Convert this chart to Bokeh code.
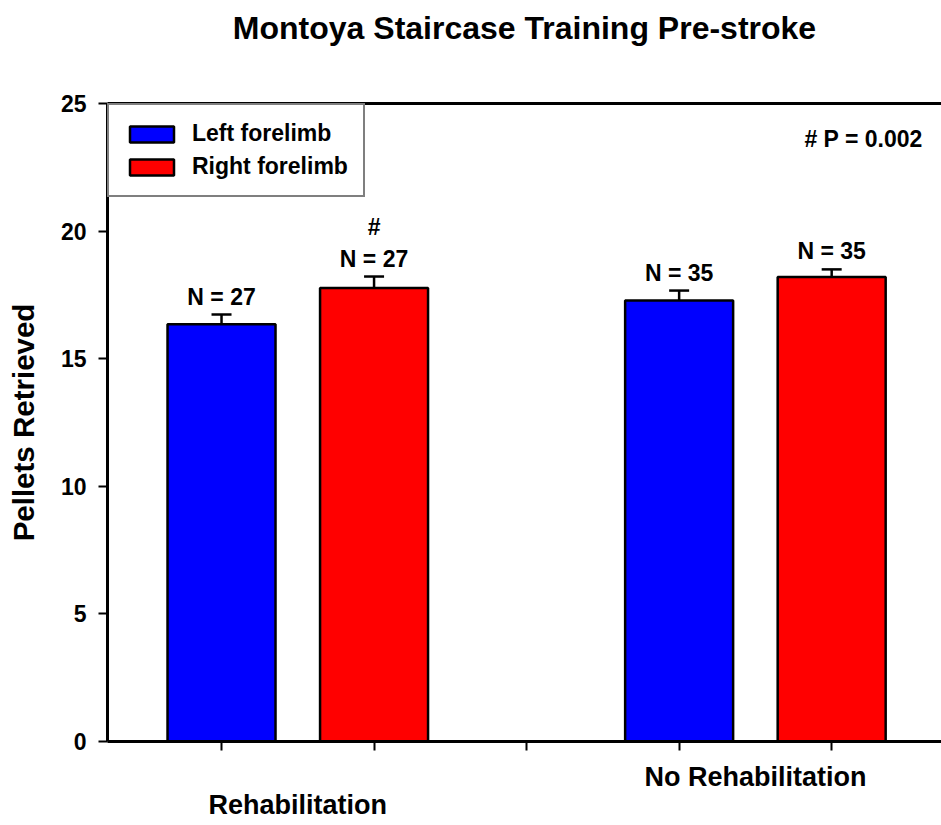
from bokeh.plotting import figure
from bokeh.models import (Range1d, FixedTicker, LinearAxis, Label, Legend, LegendItem,
                          Whisker, TeeHead, ColumnDataSource)
from bokeh.core.properties import value
from bokeh.embed import file_html
from bokeh.resources import INLINE

# ---------------- data ----------------
title_text = "Montoya Staircase Training Pre-stroke"
groups = ["Rehabilitation", "No Rehabilitation"]
series = ["Left forelimb", "Right forelimb"]
left_means = [16.35, 17.28]
left_err = [0.38, 0.39]
right_means = [17.77, 18.20]
right_err = [0.45, 0.30]
left_n = ["N = 27", "N = 35"]
right_n = ["N = 27", "N = 35"]
right_sig = ["#", ""]
p_note = "# P = 0.002"
y_label = "Pellets Retrieved"
y_ticks = [0, 5, 10, 15, 20, 25]

FONT = "Liberation Sans"
colors = ["#0000FF", "#FF0000"]

# slot positions: each group gets two bars and a gap slot
left_x = [3 * i + 1 for i in range(len(groups))]
right_x = [3 * i + 2 for i in range(len(groups))]
group_x = [(a + b) / 2 for a, b in zip(left_x, right_x)]

Y0, Y1 = 0, 25
X0, X1 = 0.2525, 5.72
FRAME_TOP, FRAME_BOTTOM = 103, 741  # page px
PPU = (FRAME_BOTTOM - FRAME_TOP) / (Y1 - Y0)


def y_at(page_px):
    return Y1 - (page_px - FRAME_TOP) / PPU


def x_at(page_px):
    return 1 + (page_px - 221) / 152.5


p = figure(width=941, height=825, x_range=Range1d(X0, X1), y_range=Range1d(Y0, Y1),
           output_backend="svg", toolbar_location=None,
           min_border_left=107, min_border_right=0, min_border_top=103, min_border_bottom=84)
p.outline_line_color = None
p.xgrid.visible = False
p.ygrid.visible = False
p.background_fill_color = "white"
p.border_fill_color = "white"

# axes
xa = p.xaxis[0]
xa.ticker = FixedTicker(ticks=[1, 2, 3, 4, 5])
xa.major_label_text_font_size = "0px"
xa.major_label_text_color = None
xa.major_label_standoff = 0
xa.minor_tick_line_color = None
xa.major_tick_out = 9
xa.major_tick_in = 0
xa.major_tick_line_width = 2
xa.axis_line_width = 3

ya = p.yaxis[0]
ya.ticker = FixedTicker(ticks=y_ticks)
ya.minor_tick_line_color = None
ya.major_tick_out = 9
ya.major_tick_in = 0
ya.major_tick_line_width = 2
ya.axis_line_width = 3
ya.major_label_text_font = FONT
ya.major_label_text_font_size = "23px"
ya.major_label_text_font_style = "bold"
ya.major_label_text_color = "black"
ya.major_label_standoff = 12
ya.axis_label = y_label
ya.axis_label_text_font = FONT
ya.axis_label_text_font_size = "29.5px"
ya.axis_label_text_font_style = "bold"
ya.axis_label_text_color = "black"
ya.axis_label_standoff = 18

# top frame line, carrying the chart title as its label
top_axis = LinearAxis(ticker=FixedTicker(ticks=[]), major_label_text_font_size="0px",
                      axis_line_width=3, major_tick_out=0, major_tick_in=0,
                      major_label_standoff=0, minor_tick_line_color=None,
                      axis_label=title_text, axis_label_standoff=58,
                      axis_label_text_font=FONT, axis_label_text_font_size="32px",
                      axis_label_text_font_style="bold", axis_label_text_color="black")
p.add_layout(top_axis, "above")

# group label axes (below the main x axis)
group_standoffs = [-5, 11]
for gx, name, so in sorted(zip(group_x, groups, group_standoffs), key=lambda t: -t[0]):
    ax = LinearAxis(ticker=FixedTicker(ticks=[gx]), major_label_overrides={gx: name},
                    axis_line_color=None, major_tick_out=0, major_tick_in=0,
                    minor_tick_line_color=None, major_label_standoff=so,
                    major_label_text_font=FONT, major_label_text_font_size="27px",
                    major_label_text_font_style="bold", major_label_text_color="black")
    p.add_layout(ax, "below")

# bars
r_left = p.vbar(x=left_x, top=left_means, width=0.708, bottom=0,
                fill_color=colors[0], line_color="black", line_width=2.5)
r_right = p.vbar(x=right_x, top=right_means, width=0.708, bottom=0,
                 fill_color=colors[1], line_color="black", line_width=2.5)

# error bars (upper only)
err_src = ColumnDataSource(dict(
    x=left_x + right_x,
    lower=left_means + right_means,
    upper=[m + e for m, e in zip(left_means, left_err)] + [m + e for m, e in zip(right_means, right_err)],
))
p.add_layout(Whisker(source=err_src, base="x", lower="lower", upper="upper",
                     line_width=2.5, line_color="black",
                     upper_head=TeeHead(size=20, line_width=2.5, line_color="black"),
                     lower_head=None))

# N labels
txt_kw = dict(text_font=value(FONT), text_font_size="23px", text_font_style="bold",
              text_align="center", text_baseline="alphabetic", text_color="black")
p.text(x=left_x, y=[m + e for m, e in zip(left_means, left_err)], text=left_n, y_offset=-18, **txt_kw)
p.text(x=right_x, y=[m + e for m, e in zip(right_means, right_err)], text=right_n, y_offset=-18, **txt_kw)
p.text(x=right_x, y=[m + e for m, e in zip(right_means, right_err)], text=right_sig, y_offset=-50, **txt_kw)

# legend
legend = Legend(items=[LegendItem(label=series[0], renderers=[r_left]),
                       LegendItem(label=series[1], renderers=[r_right])],
                location="top_left", margin=0, padding=15, spacing=6,
                glyph_width=55, glyph_height=20, label_standoff=13,
                label_text_font=FONT, label_text_font_size="23px", label_text_font_style="bold",
                label_text_color="black", border_line_color="black", border_line_width=2,
                background_fill_color="white", background_fill_alpha=1)
p.add_layout(legend)

# P note
p.add_layout(Label(x=x_at(922), y=y_at(138.7), text=p_note, text_font=FONT, text_font_size="23px",
                   text_font_style="bold", text_align="right", text_baseline="alphabetic",
                   text_color="black"))

open("out.html", "w").write(file_html(p, INLINE))
